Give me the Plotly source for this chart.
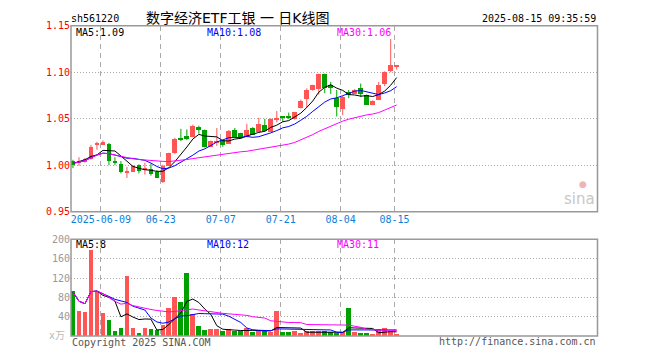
import math
import plotly.graph_objects as go

# ---------------- data ----------------
dates = ["2025-05-30",
         "2025-06-03", "2025-06-04", "2025-06-05", "2025-06-06", "2025-06-09", "2025-06-10",
         "2025-06-11", "2025-06-12", "2025-06-13", "2025-06-16", "2025-06-17", "2025-06-18",
         "2025-06-19", "2025-06-20", "2025-06-23", "2025-06-24", "2025-06-25", "2025-06-26",
         "2025-06-27", "2025-06-30",
         "2025-07-01", "2025-07-02", "2025-07-03", "2025-07-04", "2025-07-07", "2025-07-08",
         "2025-07-09", "2025-07-10", "2025-07-11", "2025-07-14", "2025-07-15", "2025-07-16",
         "2025-07-17", "2025-07-18", "2025-07-21", "2025-07-22", "2025-07-23", "2025-07-24",
         "2025-07-25", "2025-07-28", "2025-07-29", "2025-07-30", "2025-07-31",
         "2025-08-01", "2025-08-04", "2025-08-05", "2025-08-06", "2025-08-07", "2025-08-08",
         "2025-08-11", "2025-08-12", "2025-08-13", "2025-08-14", "2025-08-15"]

opens = [1.0049, 1.0035, 1.0035, 1.0069, 1.0229, 1.0226, 1.0233, 1.0038, 1.0017, 0.9931,
         0.9934, 1.0003, 0.9955, 0.9965, 0.9934, 0.9825, 1.0000, 1.0132, 1.0285, 1.0316,
         1.0305, 1.0420, 1.0382, 1.0201, 1.0250, 1.0270, 1.0236, 1.0382, 1.0347, 1.0306,
         1.0406, 1.0358, 1.0441, 1.0365, 1.0500, 1.0516, 1.0516, 1.0497, 1.0618, 1.0712,
         1.0809, 1.0826, 1.0982, 1.0861, 1.0722, 1.0608, 1.0791, 1.0774, 1.0833, 1.0757,
         1.0653, 1.0705, 1.0878, 1.1017, 1.1060]
highs = [1.0059, 1.0087, 1.0080, 1.0219, 1.0253, 1.0267, 1.0240, 1.0087, 1.0045, 0.9983,
         1.0003, 1.0010, 1.0028, 1.0017, 0.9948, 1.0007, 1.0135, 1.0295, 1.0392, 1.0385,
         1.0437, 1.0425, 1.0385, 1.0265, 1.0400, 1.0275, 1.0380, 1.0400, 1.0350, 1.0445,
         1.0410, 1.0510, 1.0500, 1.0505, 1.0583, 1.0524, 1.0566, 1.0575, 1.0705, 1.0826,
         1.0865, 1.0985, 1.0985, 1.0896, 1.0809, 1.0745, 1.0809, 1.0820, 1.0878, 1.0760,
         1.0698, 1.0896, 1.1010, 1.1357, 1.1064]
lows = [0.9969, 0.9993, 1.0028, 1.0062, 1.0167, 1.0219, 1.0000, 1.0000, 0.9913, 0.9865,
        0.9927, 0.9913, 0.9900, 0.9889, 0.9865, 0.9809, 0.9993, 1.0120, 1.0260, 1.0270,
        1.0300, 1.0340, 1.0190, 1.0195, 1.0208, 1.0198, 1.0230, 1.0300, 1.0290, 1.0300,
        1.0325, 1.0350, 1.0360, 1.0360, 1.0462, 1.0470, 1.0497, 1.0490, 1.0610, 1.0618,
        1.0800, 1.0760, 1.0774, 1.0767, 1.0524, 1.0538, 1.0722, 1.0770, 1.0732, 1.0650,
        1.0646, 1.0700, 1.0850, 1.1000, 1.1028]
closes = [1.0010, 1.0045, 1.0069, 1.0201, 1.0233, 1.0253, 1.0045, 1.0035, 0.9934, 0.9934,
          0.9993, 0.9941, 0.9959, 0.9906, 0.9872, 1.0000, 1.0132, 1.0288, 1.0281, 1.0281,
          1.0427, 1.0382, 1.0201, 1.0260, 1.0255, 1.0219, 1.0371, 1.0305, 1.0295, 1.0385,
          1.0330, 1.0451, 1.0368, 1.0503, 1.0503, 1.0513, 1.0513, 1.0573, 1.0698, 1.0809,
          1.0861, 1.0982, 1.0837, 1.0837, 1.0628, 1.0739, 1.0757, 1.0816, 1.0774, 1.0653,
          1.0694, 1.0861, 1.1007, 1.1086, 1.1064]
volumes = [93, 52, 50, 178, 93, 48, 32, 10, 16, 123,
           16, 6, 16, 14, 11, 22, 57, 80, 70, 130,
           46, 21, 12, 14, 14, 10, 14, 10, 10, 17,
           8, 12, 9, 8, 52, 8, 8, 9, 6, 9,
           9, 9, 10, 7, 5, 7, 57, 8, 6, 5,
           3, 13, 15, 10, 3]

# moving-average values before enough in-window history exists
ma5_head = [1.0020, 1.0040, 1.0060, 1.0095]
ma10_head = [1.0020, 1.0035, 1.0050, 1.0080, 1.0110, 1.0130, 1.0125, 1.0110, 1.0095]
ma30_head = [1.0020, 1.0035, 1.0050, 1.0080, 1.0110, 1.0130, 1.0125, 1.0110, 1.0095, 1.0080,
             1.0070, 1.0062, 1.0055, 1.0050, 1.0045, 1.0042, 1.0040, 1.0045, 1.0052, 1.0062,
             1.0072, 1.0082, 1.0092, 1.0100, 1.0110, 1.0118, 1.0128, 1.0138, 1.0145]
vol_ma5_head = [91, 72, 67, 92]
vol_ma10_head = [91, 72, 67, 92, 93, 88, 82, 76, 72]
vol_ma30_head = [91, 72, 67, 92, 93, 88, 80, 72, 66, 68,
                 63, 60, 57, 55, 53, 51, 50, 51, 53, 55,
                 56, 54, 52, 50, 48, 47, 46, 45, 45]

tick_dates = ["2025-06-09", "2025-06-23", "2025-07-07", "2025-07-21", "2025-08-04", "2025-08-15"]
tick_labels = ["2025-06-09", "06-23", "07-07", "07-21", "08-04", "08-15"]
price_ticks = [0.95, 1.00, 1.05, 1.10, 1.15]
vol_ticks = [40, 80, 120, 160, 200]

code = "sh561220"
title = "数字经济ETF工银 一 日K线图"
stamp = "2025-08-15 09:35:59"

# ---------------- helpers ----------------
def rolling(vals, n, head):
    out = list(head)
    for i in range(len(head), len(vals)):
        w = vals[i - n + 1:i + 1]
        out.append(sum(w) / n)
    return out

ma5 = rolling(closes, 5, ma5_head)
ma10 = rolling(closes, 10, ma10_head)
ma30 = rolling(closes, 30, ma30_head)
vma5 = rolling(volumes, 5, vol_ma5_head)
vma10 = rolling(volumes, 10, vol_ma10_head)
vma30 = rolling(volumes, 30, vol_ma30_head)

def trunc(v, d):
    f = 10 ** d
    return math.floor(v * f + 1e-9) / f

RED = "#FF5555"
GREEN = "#00A000"
W, H = 660, 360
X0, X1 = 71, 597.5
PY0, PY1 = 20.3, 212.3
VY0, VY1 = 240.7, 340.5

def px(x):
    return x / W

def py(y):
    return 1 - y / H

n = len(dates)
idx = list(range(n))
up = [c >= o for o, c in zip(opens, closes)]

fig = go.Figure()

# wicks
for flag, col in ((True, RED), (False, GREEN)):
    xs, ys = [], []
    for i in idx:
        if up[i] == flag:
            xs += [i, i, None]
            ys += [lows[i], highs[i], None]
    fig.add_trace(go.Scatter(x=xs, y=ys, mode="lines", line=dict(color=col, width=1),
                             hoverinfo="skip", xaxis="x", yaxis="y"))

# bodies
for flag, col in ((True, RED), (False, GREEN)):
    bx, bb, bh = [], [], []
    for i in idx:
        if up[i] == flag:
            lo = min(opens[i], closes[i])
            hgt = max(abs(closes[i] - opens[i]), 0.0011)
            bx.append(i)
            bb.append(lo)
            bh.append(hgt)
    fig.add_trace(go.Bar(x=bx, y=bh, base=bb, width=0.8, marker=dict(color=col, line=dict(width=0)),
                         xaxis="x", yaxis="y"))

# price MAs
fig.add_trace(go.Scatter(x=idx, y=ma5, mode="lines", line=dict(color="#000000", width=1), xaxis="x", yaxis="y"))
fig.add_trace(go.Scatter(x=idx, y=ma10, mode="lines", line=dict(color="#0000FF", width=1), xaxis="x", yaxis="y"))
fig.add_trace(go.Scatter(x=idx, y=ma30, mode="lines", line=dict(color="#FF00FF", width=1), xaxis="x", yaxis="y"))

# volume bars
fig.add_trace(go.Bar(x=idx, y=volumes, width=0.8,
                     marker=dict(color=[RED if u else GREEN for u in up], line=dict(width=0)),
                     xaxis="x2", yaxis="y2"))
fig.add_trace(go.Scatter(x=idx, y=vma5, mode="lines", line=dict(color="#000000", width=1), xaxis="x2", yaxis="y2"))
fig.add_trace(go.Scatter(x=idx, y=vma10, mode="lines", line=dict(color="#0000FF", width=1), xaxis="x2", yaxis="y2"))
fig.add_trace(go.Scatter(x=idx, y=vma30, mode="lines", line=dict(color="#FF00FF", width=1), xaxis="x2", yaxis="y2"))

tickpos = [dates.index(d) - 0.35 for d in tick_dates]
xrange_ = [-0.33, 87.5]
MONO = "DejaVu Sans Mono"
GRID = "#AAAAAA"

fig.update_layout(
    width=W, height=H, margin=dict(l=0, r=0, t=0, b=0),
    paper_bgcolor="white", plot_bgcolor="white", showlegend=False,
    barmode="overlay", bargap=0,
    font=dict(family=MONO, size=10, color="#000"),
    xaxis=dict(domain=[px(X0), px(X1)], range=xrange_, anchor="y",
               tickmode="array", tickvals=tickpos, ticktext=tick_labels,
               tickfont=dict(family=MONO, size=10, color="#0A7FD9"),
               showgrid=True, gridcolor=GRID, griddash="5px,4px", gridwidth=1,
               zeroline=False, showline=False, ticks=""),
    yaxis=dict(domain=[py(PY1), py(PY0)], range=[0.95, 1.15], anchor="x",
               tickmode="array", tickvals=price_ticks, ticktext=[f"{v:.2f}" for v in price_ticks],
               tickfont=dict(family=MONO, size=10, color="#FF0000"),
               showgrid=True, gridcolor=GRID, griddash="1px,2px", gridwidth=1,
               zeroline=False, showline=False, ticks=""),
    xaxis2=dict(domain=[px(X0), px(X1)], range=xrange_, anchor="y2", matches="x",
                tickmode="array", tickvals=tickpos, showticklabels=False,
                showgrid=True, gridcolor=GRID, griddash="5px,4px", gridwidth=1,
                zeroline=False, showline=False, ticks=""),
    yaxis2=dict(domain=[py(VY1), py(VY0)], range=[0, 200], anchor="x2",
                tickmode="array", tickvals=vol_ticks, ticktext=[str(v) for v in vol_ticks],
                tickfont=dict(family=MONO, size=10, color="#999999"),
                showgrid=True, gridcolor=GRID, griddash="1px,2px", gridwidth=1,
                zeroline=False, showline=False, ticks=""),
)

# panel borders
for (ya, yb) in ((PY0, PY1), (VY0, VY1)):
    fig.add_shape(type="rect", xref="paper", yref="paper", x0=px(X0), x1=px(X1), y0=py(yb), y1=py(ya),
                  line=dict(color="#999999", width=1.5), fillcolor="rgba(0,0,0,0)", layer="above")

def note(text, x, y, color="#000", size=10, anchor="left", family=MONO, **kw):
    fig.add_annotation(text=text, x=px(x), y=py(y), xref="paper", yref="paper",
                       xanchor=anchor, yanchor="middle", showarrow=False,
                       font=dict(family=family, size=size, color=color), **kw)

# header
note(code, 69, 13)
note(title, 237.5, 12.5, size=14, anchor="center", family="DejaVu Sans, Noto Sans CJK SC")
note(stamp, 597.5, 13, anchor="right")

# MA legends
note(f"MA5:{trunc(ma5[-1], 2):.2f}", 74, 27)
note(f"MA10:{trunc(ma10[-1], 2):.2f}", 205, 27, color="#0000FF")
note(f"MA30:{trunc(ma30[-1], 2):.2f}", 335, 27, color="#FF00FF")
note(f"MA5:{int(trunc(vma5[-1], 0))}", 74, 246)
note(f"MA10:{int(trunc(vma10[-1], 0))}", 205, 246, color="#0000FF")
note(f"MA30:{int(trunc(vma30[-1], 0))}", 335, 246, color="#FF00FF")

# footer
note("x万", 67, 340, color="#BBBBBB", anchor="right", family="DejaVu Sans, Noto Sans CJK SC", size=10)
note("Copyright 2025 SINA.COM", 70, 347, color="#555555")
note("http://finance.sina.com.cn", 597.5, 346, color="#555555", anchor="right")

# sina watermark
note("sina", 597, 199, color="#C8C8C8", size=15, anchor="right", family="DejaVu Sans")
note("●", 583, 184, color="#F0B4B4", size=9, anchor="center", family="DejaVu Sans")

fig.write_html("out.html")
